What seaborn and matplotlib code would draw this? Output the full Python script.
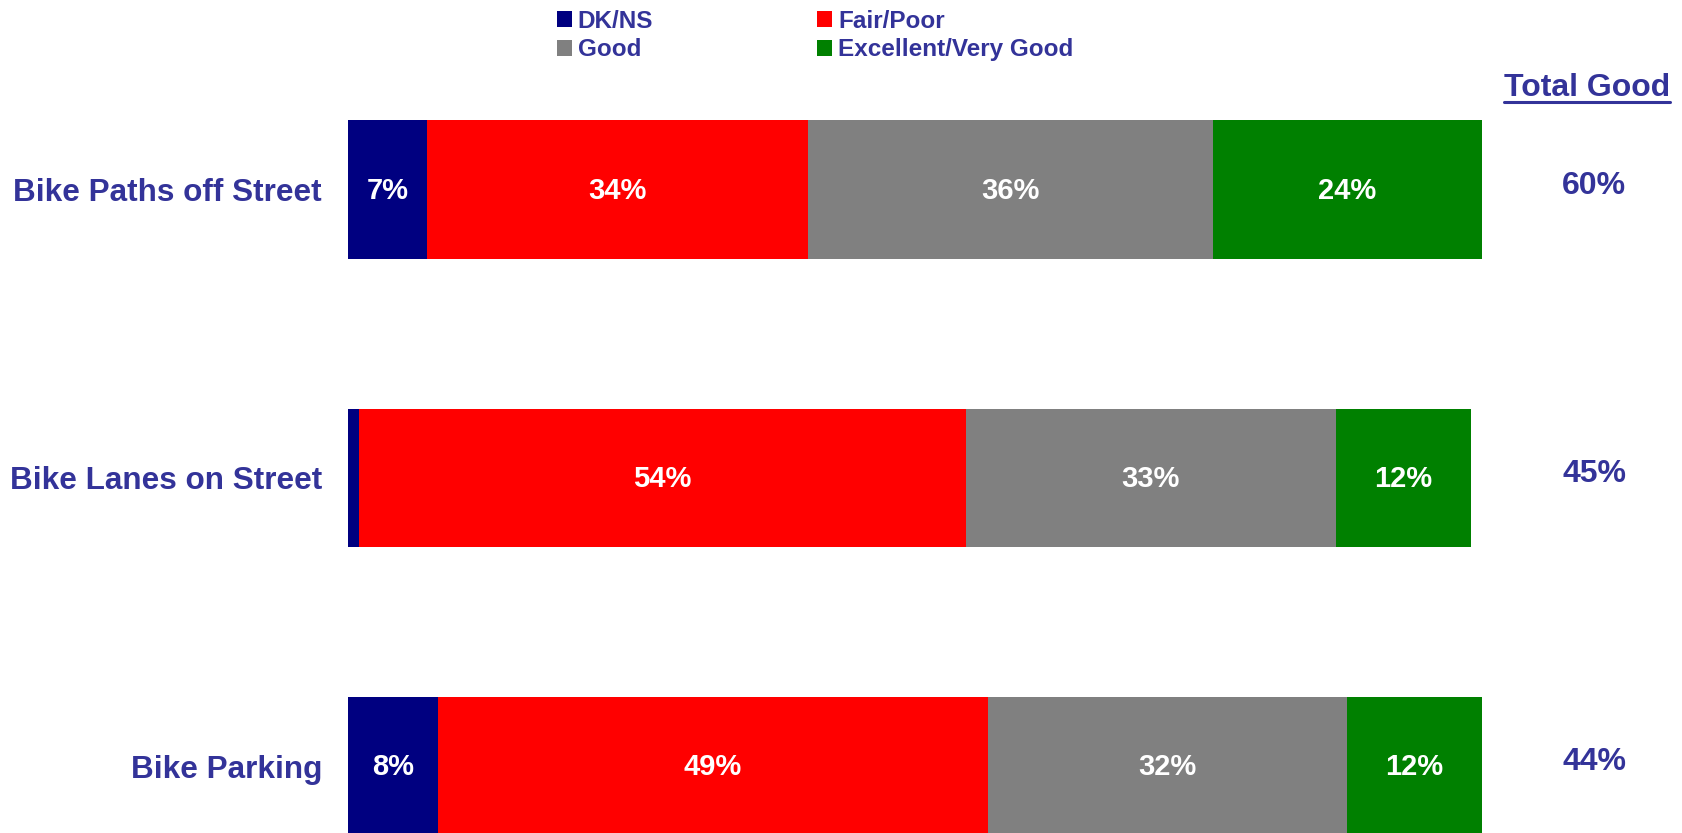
import matplotlib
matplotlib.use("Agg")
import matplotlib.pyplot as plt
import seaborn as sns
import numpy as np
from matplotlib.patches import Patch
from matplotlib.lines import Line2D

# Survey ratings of cycling facilities (percent of respondents)
categories = ["Bike Paths off Street", "Bike Lanes on Street", "Bike Parking"]
segments = ["DK/NS", "Fair/Poor", "Good", "Excellent/Very Good"]
dk_ns = [7, 1, 8]
fair_poor = [34, 54, 49]
good = [36, 33, 32]
excellent = [24, 12, 12]
total_good = [60, 45, 44]

seg_colors = ["#000080", "#FF0000", "#808080", "#008000"]
text_color = "#333399"

sns.set_theme(style="white")
plt.rcParams["font.family"] = ["Liberation Sans", "DejaVu Sans"]
plt.rcParams["font.weight"] = "bold"

W, H = 1683, 833
fig = plt.figure(figsize=(W / 100, H / 100), dpi=100)
ax = fig.add_axes([348 / W, 0, 1134 / W, (H - 45.4) / H])

values = np.array([dk_ns, fair_poor, good, excellent], dtype=float)
cum = np.cumsum(values, axis=0)

# Stacked bars: draw cumulative totals from the outermost segment inward
for i in reversed(range(len(segments))):
    sns.barplot(x=cum[i], y=categories, orient="h", color=seg_colors[i],
                width=0.48, saturation=1, errorbar=None, linewidth=0, ax=ax)

ax.set_xlim(0, 101)
ax.set_ylim(2.232, -0.5)

# Segment value labels
for i in range(len(segments)):
    for j in range(len(categories)):
        v = values[i, j]
        if v >= 5:
            ax.text(cum[i, j] - v / 2, j + 0.004, f"{int(v)}%", ha="center", va="center",
                    color="white", fontsize=21, fontweight="bold")

# Total Good column
for j, tg in enumerate(total_good):
    ax.text(111.0, j + 0.015, f"{tg}%", ha="center", va="baseline",
            color=text_color, fontsize=23, fontweight="bold", clip_on=False)

hdr = fig.text(1587 / W, 1 - 96 / H, "Total Good", ha="center", va="baseline",
               color=text_color, fontsize=23, fontweight="bold")

# Axis styling
for s in ax.spines.values():
    s.set_visible(False)
ax.set_xlabel("")
ax.set_ylabel("")
ax.set_xticks([])
ax.tick_params(axis="y", length=0, pad=18.7)
for lab in ax.get_yticklabels():
    lab.set_color(text_color)
    lab.set_fontsize(22.7)
    lab.set_fontweight("bold")

# Legend
handles = [Patch(facecolor=c, edgecolor="none") for c in seg_colors]
order = [0, 2, 1, 3]
leg = fig.legend([handles[k] for k in order], [segments[k] for k in order],
                 ncol=2, loc="upper left", bbox_to_anchor=(557 / W, 1 - 9.5 / H),
                 frameon=False, handlelength=0.6, handleheight=0.62,
                 handletextpad=0.25, columnspacing=6.75, labelspacing=0.24,
                 borderpad=0, borderaxespad=0,
                 prop={"family": ["Liberation Sans", "DejaVu Sans"],
                       "weight": "bold", "size": 17.5})
for t in leg.get_texts():
    t.set_color(text_color)

# Underline the column header
fig.canvas.draw()
bb = hdr.get_window_extent(fig.canvas.get_renderer())
y_line = H - 101.7
fig.add_artist(Line2D([bb.x0 / W, bb.x1 / W], [y_line / H, y_line / H],
                      transform=fig.transFigure, color=text_color, linewidth=2.2))

fig.savefig("out.png", dpi=100)
